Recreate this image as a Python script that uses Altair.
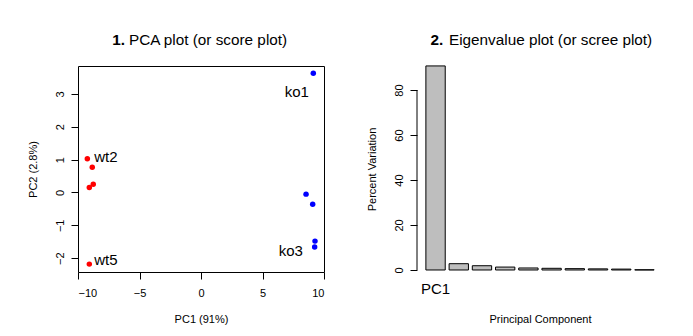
import altair as alt
import pandas as pd

FONT = "Liberation Sans"

# ---- PCA scores ----
samples = ["wt1", "wt2", "wt3", "wt4", "wt5", "ko1", "ko2", "ko3", "ko4", "ko5"]
groups = ["wt", "wt", "wt", "wt", "wt", "ko", "ko", "ko", "ko", "ko"]
pc1 = [-8.84, -9.24, -8.76, -9.08, -9.08, 9.13, 8.54, 9.24, 9.27, 9.08]
pc2 = [0.77, 1.03, 0.25, 0.15, -2.18, 3.63, -0.05, -1.66, -1.48, -0.36]

label_text = ["ko1", "ko3", "wt2", "wt5"]
label_x = [7.79, 7.30, -7.74, -7.74]
label_y = [3.06, -1.79, 1.07, -2.06]

# ---- Scree ----
components = ["PC1", "PC2", "PC3", "PC4", "PC5", "PC6", "PC7", "PC8", "PC9", "PC10"]
pct_var = [90.7, 2.8, 1.9, 1.3, 0.9, 0.75, 0.6, 0.5, 0.4, 0.1]

title_num = ["1.", "2."]
title_rest = ["PCA plot (or score plot)", "Eigenvalue plot (or scree plot)"]

W, H = 246, 206
TFS = 15.3

pts = pd.DataFrame({"sample": samples, "group": groups, "pc1": pc1, "pc2": pc2})
labs = pd.DataFrame({"text": label_text, "x": label_x, "y": label_y})
scree = pd.DataFrame({"pc": components, "pct": pct_var})

xs = alt.Scale(domain=[-10, 10], nice=False, zero=False)
ys = alt.Scale(domain=[-2.42, 3.85], nice=False, zero=False)

points = alt.Chart(pts).mark_circle(size=30, opacity=1).encode(
    x=alt.X("pc1:Q", scale=xs, title="PC1 (91%)",
            axis=alt.Axis(values=[-10, -5, 0, 5, 10], labelBaseline="alphabetic",
                          labelPadding=17, titleBaseline="alphabetic", titleY=50)),
    y=alt.Y("pc2:Q", scale=ys, title="PC2 (2.8%)",
            axis=alt.Axis(values=[-2, -1, 0, 1, 2, 3], labelAngle=270, labelAlign="center",
                          labelBaseline="alphabetic", labelPadding=8,
                          titleBaseline="alphabetic", titleX=-42)),
    color=alt.Color("group:N", scale=alt.Scale(domain=["wt", "ko"], range=["#ff0000", "#0000ff"]),
                    legend=None),
)

texts = alt.Chart(labs).mark_text(font=FONT, fontSize=15, color="black").encode(
    x=alt.X("x:Q", scale=xs), y=alt.Y("y:Q", scale=ys), text="text:N"
)

t1a = alt.Chart(pd.DataFrame({"t": [title_num[0]]})).mark_text(
    font=FONT, fontSize=TFS, fontWeight="bold", align="right", baseline="alphabetic", color="black"
).encode(x=alt.value(47), y=alt.value(-21), text="t:N")
t1b = alt.Chart(pd.DataFrame({"t": [title_rest[0]]})).mark_text(
    font=FONT, fontSize=TFS, align="left", baseline="alphabetic", color="black"
).encode(x=alt.value(51), y=alt.value(-21), text="t:N")

left = alt.layer(points, texts, t1a, t1b).properties(
    width=W, height=H, view=alt.ViewBackground(stroke="black", strokeWidth=1)
)

bars = alt.Chart(scree).mark_bar(color="#bebebe", stroke="black", strokeWidth=1).encode(
    x=alt.X("pc:N", sort=components, title="Principal Component",
            scale=alt.Scale(paddingInner=1 / 6, paddingOuter=0.383),
            axis=alt.Axis(labelExpr="datum.value == 'PC1' ? 'PC1' : ''", ticks=False,
                          labelAngle=0, labelFontSize=15, labelBaseline="alphabetic",
                          labelPadding=21, titleBaseline="alphabetic", titleY=50)),
    y=alt.Y("pct:Q", title="Percent Variation",
            scale=alt.Scale(domain=[-0.89, 90.67], nice=False, zero=False),
            axis=alt.Axis(values=[0, 20, 40, 60, 80], labelAngle=270, labelAlign="center",
                          labelBaseline="alphabetic", labelPadding=8,
                          titleBaseline="alphabetic", titleX=-42)),
)

yline = alt.Chart(pd.DataFrame({"a": [0]})).mark_rule(color="black", strokeWidth=1).encode(
    x=alt.value(0), y=alt.datum(0), y2=alt.datum(80)
)

t2a = alt.Chart(pd.DataFrame({"t": [title_num[1]]})).mark_text(
    font=FONT, fontSize=TFS, fontWeight="bold", align="right", baseline="alphabetic", color="black"
).encode(x=alt.value(26.3), y=alt.value(-21), text="t:N")
t2b = alt.Chart(pd.DataFrame({"t": [title_rest[1]]})).mark_text(
    font=FONT, fontSize=TFS, align="left", baseline="alphabetic", color="black"
).encode(x=alt.value(32), y=alt.value(-21), text="t:N")

right = alt.layer(bars, yline, t2a, t2b).properties(width=W, height=H)

chart = alt.hconcat(left, right, spacing=41).properties(
    padding={"left": 18, "top": 24, "right": 0, "bottom": 0}, background="white"
).configure_view(strokeWidth=0).configure_axis(
    labelFont=FONT, titleFont=FONT, labelFontSize=11, titleFontSize=11,
    titleFontWeight="normal", tickSize=7, tickColor="black", labelColor="black",
    titleColor="black", grid=False, domain=False
)

chart.save("out.html", embed_options={"renderer": "svg", "actions": False})
